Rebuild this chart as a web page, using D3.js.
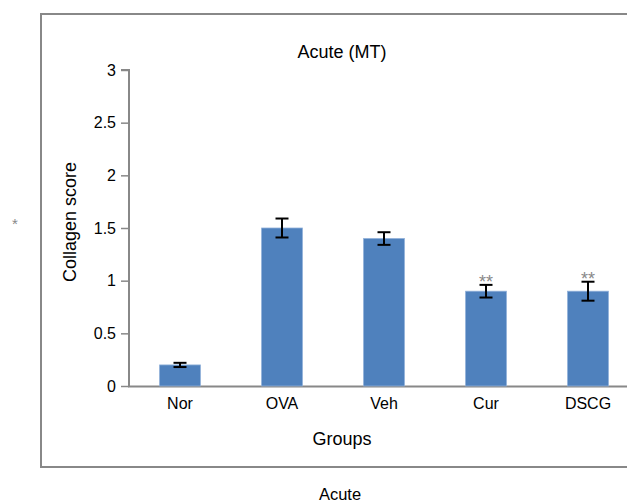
<!DOCTYPE html>
<html><head><meta charset="utf-8">
<script src="https://cdn.jsdelivr.net/npm/d3@7"></script>
<style>body{margin:0;background:#fff}svg{display:block;font-family:"Liberation Sans",Arial,sans-serif}</style>
</head><body>
<svg id="c" width="627" height="502"></svg>
<script>
const categories = ["Nor","OVA","Veh","Cur","DSCG"];
const values = [0.2,1.5,1.4,0.9,0.9];
const errors = [0.02,0.09,0.06,0.06,0.09];
const marks = ["","","","**","**"];
const yTicks = [0,0.5,1,1.5,2,2.5,3];
const yTickLabels = ["0","0.5","1","1.5","2","2.5","3"];

const svg = d3.select("#c");
// frame
svg.append("rect").attr("x",41).attr("y",14).attr("width",640).attr("height",453)
  .attr("fill","none").attr("stroke","#888").attr("stroke-width",2);

const y = d3.scaleLinear().domain([0,3]).range([386,70]);
const x = d3.scaleBand().domain(categories).range([129,639]).paddingInner(0.6).paddingOuter(0.3);

const yAxis = d3.axisLeft(y).tickValues(yTicks).tickFormat((d,i)=>yTickLabels[i]).tickSize(8).tickPadding(5);
const gy = svg.append("g").attr("transform","translate(129,0)").call(yAxis);
gy.attr("font-family","Liberation Sans, Arial, sans-serif");
gy.select(".domain").attr("stroke","#888").attr("stroke-width",2).attr("d","M-8,70H0V386");
gy.selectAll(".tick line").attr("stroke","#888").attr("stroke-width",1.5);
gy.selectAll(".tick text").attr("font-size",16).attr("fill","#000");

// x axis line
svg.append("line").attr("x1",128).attr("x2",627).attr("y1",386.5).attr("y2",386.5)
  .attr("stroke","#888").attr("stroke-width",2);

// bars
svg.append("g").selectAll("rect").data(values).join("rect")
  .attr("x",(d,i)=>x(categories[i])).attr("width",x.bandwidth())
  .attr("y",d=>y(d)).attr("height",d=>y(0)-y(d))
  .attr("fill","#4f81bd").attr("stroke","#8fb0d9").attr("stroke-width",0.8);

// error bars
const eb = svg.append("g").attr("stroke","#000").attr("stroke-width",2);
values.forEach((v,i)=>{
  const cx = x(categories[i]) + x.bandwidth()/2;
  eb.append("line").attr("x1",cx).attr("x2",cx).attr("y1",y(v+errors[i])).attr("y2",y(v-errors[i]));
  eb.append("line").attr("x1",cx-6.5).attr("x2",cx+6.5).attr("y1",y(v+errors[i])).attr("y2",y(v+errors[i]));
  eb.append("line").attr("x1",cx-6.5).attr("x2",cx+6.5).attr("y1",y(v-errors[i])).attr("y2",y(v-errors[i]));
  if (marks[i]) {
    svg.append("text").attr("x",cx).attr("y",y(v+errors[i])+3).attr("text-anchor","middle")
      .attr("font-size",18).attr("fill","#888").text(marks[i]);
  }
});

// x tick labels
svg.append("g").selectAll("text").data(categories).join("text")
  .attr("x",d=>x(d)+x.bandwidth()/2).attr("y",409).attr("text-anchor","middle")
  .attr("font-size",16).attr("fill","#000").text(d=>d);

svg.append("text").attr("x",342).attr("y",58).attr("text-anchor","middle").attr("font-size",18).text("Acute (MT)");
svg.append("text").attr("x",342).attr("y",445).attr("text-anchor","middle").attr("font-size",18).text("Groups");
svg.append("text").attr("transform","translate(76,222) rotate(-90)").attr("text-anchor","middle").attr("font-size",18).text("Collagen score");
svg.append("text").attr("x",340).attr("y",500).attr("text-anchor","middle").attr("font-size",16.5).text("Acute");
svg.append("text").attr("x",15).attr("y",229).attr("text-anchor","middle").attr("font-size",15).attr("fill","#888").text("*");
</script>
</body></html>
